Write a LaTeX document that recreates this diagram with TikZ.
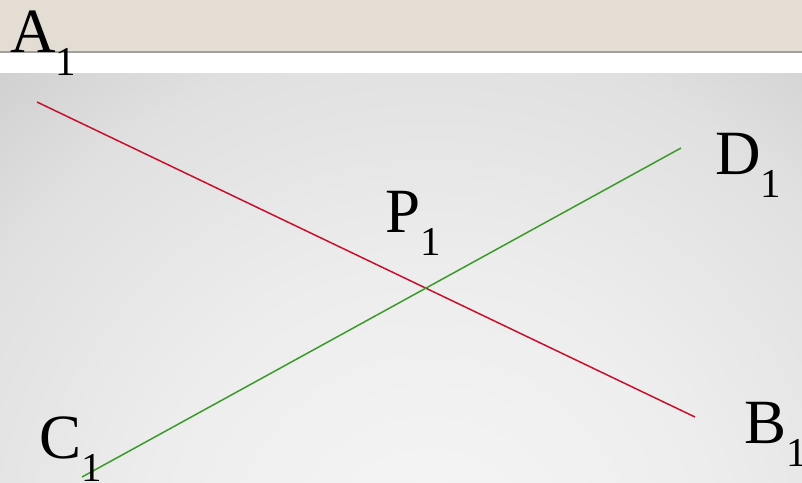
\documentclass[tikz,border=0pt]{standalone}
\usepackage{fontspec}
\setmainfont{Liberation Serif}
\definecolor{beige}{HTML}{E3DDD3}
\definecolor{rule}{HTML}{A0A0A0}
\definecolor{bginner}{HTML}{F6F6F6}
\definecolor{bgmida}{HTML}{EDEDED}
\definecolor{bgmidb}{HTML}{E0E0E0}
\definecolor{bgouter}{HTML}{CECECE}
\definecolor{redline}{HTML}{C8102E}
\definecolor{greenline}{HTML}{3C9A2C}
\pgfdeclareradialshading{bgshade}{\pgfpoint{0bp}{0bp}}{color(0bp)=(bginner); color(10.7bp)=(bgmida); color(19.3bp)=(bgmidb); color(25bp)=(bgouter); color(50bp)=(bgouter)}
\newcommand{\ptlab}[1]{#1\raisebox{-23pt}{\fontsize{41}{41}\selectfont 1}}
\tikzset{
  lab/.style={anchor=base west, inner sep=0pt, font=\fontsize{63}{63}\selectfont},
  seg/.style={line width=1.5pt},
}
\begin{document}
\begin{tikzpicture}[x=1pt,y=-1pt]
\useasboundingbox (0,0) rectangle (802,482);
\fill[beige] (0,0) rectangle (802,52);
\fill[white] (0,52) rectangle (802,73);
\begin{scope}
  \clip (0,73) rectangle (802,482);
  \shade[shading=bgshade] (430,560) circle (670);
\end{scope}
\draw[rule, line width=2pt] (0,52) -- (802,52);
\coordinate (a) at (37,102);
\coordinate (b) at (695,417);
\coordinate (c) at (82,477);
\coordinate (d) at (681,148);
\draw[seg, redline] (a) -- (b);
\draw[seg, greenline] (c) -- (d);
\node[lab] (la) at (10,52) {\ptlab{A}};
\node[lab] (ld) at (715,174) {\ptlab{D}};
\node[lab] (lp) at (385,232) {\ptlab{P}};
\node[lab] (lc) at (39,458) {\ptlab{C}};
\node[lab] (lb) at (744,443) {\ptlab{B}};
\end{tikzpicture}
\end{document}
